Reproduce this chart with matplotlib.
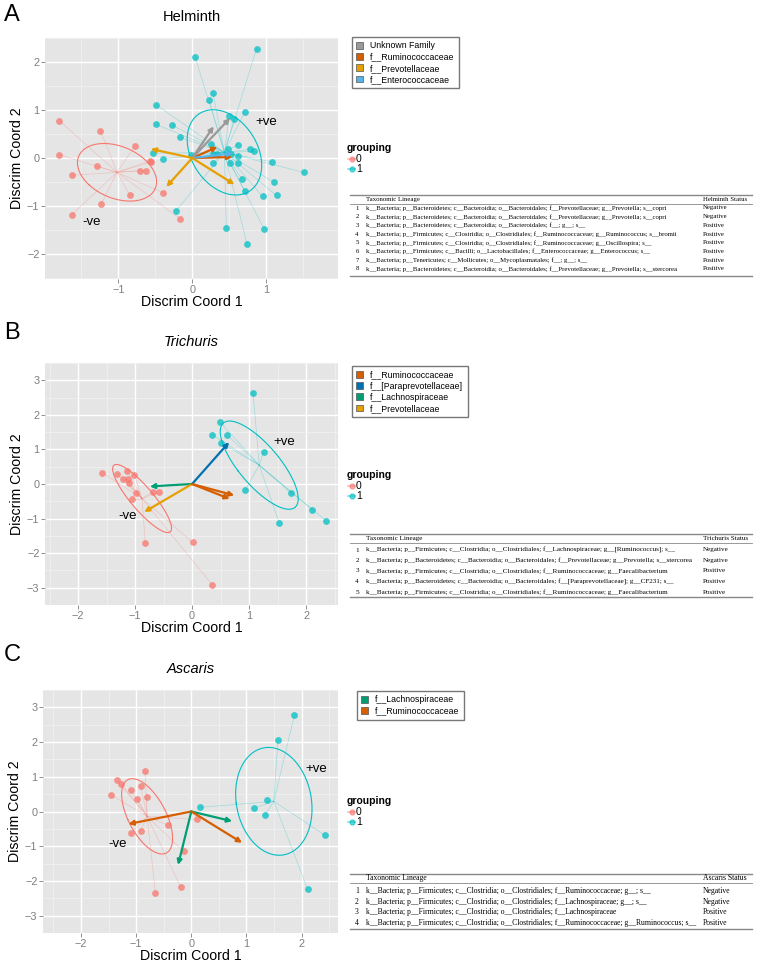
import numpy as np
import matplotlib.pyplot as plt
from matplotlib.patches import Patch
from matplotlib.lines import Line2D

plt.rcParams['font.family'] = ['Liberation Sans', 'DejaVu Sans']

RED = '#F8766D'
CYAN = '#00BFC4'
FAM_COL = {
    'Unknown Family': '#999999',
    'f__Ruminococcaceae': '#D55E00',
    'f__Prevotellaceae': '#E69F00',
    'f__Enterococcaceae': '#56B4E9',
    'f__[Paraprevotellaceae]': '#0072B2',
    'f__Lachnospiraceae': '#009E73',
}

# ---- A: Helminth ----
helm_neg_x = [-1.80, -1.80, -1.24, -0.78, -1.29, -1.62, -0.57, -0.56, -0.71, -0.63, -0.84, -1.23, -1.63, -0.39, -0.16]
helm_neg_y = [0.78, 0.07, 0.57, 0.24, -0.17, -0.36, -0.06, -0.09, -0.26, -0.26, -0.78, -0.96, -1.18, -0.73, -1.27]
helm_pos_x = [0.04, 0.87, 0.28, 0.23, -0.49, -0.49, -0.27, 0.71, 0.50, 0.57, -0.17, 0.26, 0.62, 0.48, 0.78, 0.84,
              -0.53, -0.02, 0.28, 0.34, 0.53, 0.62, -0.40, 0.28, 0.51, 0.62, 1.08, 1.51, 0.67, 1.10, 0.71, 0.95,
              1.14, -0.22, 0.46, 0.97, 0.74]
helm_pos_y = [2.10, 2.28, 1.35, 1.21, 1.11, 0.70, 0.68, 0.96, 0.87, 0.82, 0.43, 0.29, 0.28, 0.19, 0.18, 0.14,
              0.10, 0.07, 0.09, 0.09, 0.09, 0.04, -0.02, -0.11, -0.10, -0.10, -0.08, -0.30, -0.44, -0.50, -0.68, -0.80,
              -0.78, -1.10, -1.45, -1.47, -1.79]
helm_arrow_x = [-0.56, -0.35, 0.29, 0.54, 0.34, 0.55, 0.51, 0.57]
helm_arrow_y = [0.19, -0.60, 0.66, 0.02, 0.23, 0.10, 0.83, -0.55]
helm_arrow_fam = ['f__Prevotellaceae', 'f__Prevotellaceae', 'Unknown Family', 'f__Ruminococcaceae',
                  'f__Ruminococcaceae', 'f__Enterococcaceae', 'Unknown Family', 'f__Prevotellaceae']
helm_legend = ['Unknown Family', 'f__Ruminococcaceae', 'f__Prevotellaceae', 'f__Enterococcaceae']
helm_lineage = [
    'k__Bacteria; p__Bacteroidetes; c__Bacteroidia; o__Bacteroidales; f__Prevotellaceae; g__Prevotella; s__copri',
    'k__Bacteria; p__Bacteroidetes; c__Bacteroidia; o__Bacteroidales; f__Prevotellaceae; g__Prevotella; s__copri',
    'k__Bacteria; p__Bacteroidetes; c__Bacteroidia; o__Bacteroidales; f__; g__; s__',
    'k__Bacteria; p__Firmicutes; c__Clostridia; o__Clostridiales; f__Ruminococcaceae; g__Ruminococcus; s__bromii',
    'k__Bacteria; p__Firmicutes; c__Clostridia; o__Clostridiales; f__Ruminococcaceae; g__Oscillospira; s__',
    'k__Bacteria; p__Firmicutes; c__Bacilli; o__Lactobacillales; f__Enterococcaceae; g__Enterococcus; s__',
    'k__Bacteria; p__Tenericutes; c__Mollicutes; o__Mycoplasmatales; f__; g__; s__',
    'k__Bacteria; p__Bacteroidetes; c__Bacteroidia; o__Bacteroidales; f__Prevotellaceae; g__Prevotella; s__stercorea',
]
helm_status = ['Negative', 'Negative', 'Positive', 'Positive', 'Positive', 'Positive', 'Positive', 'Positive']

# ---- B: Trichuris ----
tri_neg_x = [-1.58, -1.32, -1.14, -1.01, -1.22, -1.13, -1.10, -0.99, -1.06, -0.69, -0.58, -0.82, 0.01, 0.35]
tri_neg_y = [0.33, 0.30, 0.39, 0.26, 0.14, 0.14, 0.02, -0.26, -0.42, -0.23, -0.23, -1.72, -1.69, -2.91]
tri_pos_x = [1.07, 0.49, 0.35, 0.62, 0.51, 1.26, 0.93, 1.74, 2.11, 2.35, 1.53]
tri_pos_y = [2.64, 1.79, 1.43, 1.41, 1.18, 0.94, -0.18, -0.27, -0.75, -1.06, -1.13]
tri_arrow_x = [-0.74, -0.84, 0.74, 0.65, 0.66]
tri_arrow_y = [-0.07, -0.81, -0.33, 1.21, -0.43]
tri_arrow_fam = ['f__Lachnospiraceae', 'f__Prevotellaceae', 'f__Ruminococcaceae',
                 'f__[Paraprevotellaceae]', 'f__Ruminococcaceae']
tri_legend = ['f__Ruminococcaceae', 'f__[Paraprevotellaceae]', 'f__Lachnospiraceae', 'f__Prevotellaceae']
tri_lineage = [
    'k__Bacteria; p__Firmicutes; c__Clostridia; o__Clostridiales; f__Lachnospiraceae; g__[Ruminococcus]; s__',
    'k__Bacteria; p__Bacteroidetes; c__Bacteroidia; o__Bacteroidales; f__Prevotellaceae; g__Prevotella; s__stercorea',
    'k__Bacteria; p__Firmicutes; c__Clostridia; o__Clostridiales; f__Ruminococcaceae; g__Faecalibacterium',
    'k__Bacteria; p__Bacteroidetes; c__Bacteroidia; o__Bacteroidales; f__[Paraprevotellaceae]; g__CF231; s__',
    'k__Bacteria; p__Firmicutes; c__Clostridia; o__Clostridiales; f__Ruminococcaceae; g__Faecalibacterium',
]
tri_status = ['Negative', 'Negative', 'Positive', 'Positive', 'Positive']

# ---- C: Ascaris ----
asc_neg_x = [-1.45, -1.35, -1.27, -0.84, -1.10, -0.92, -0.98, -0.81, -0.42, -1.10, -0.92, 0.11, -0.14, -0.19, -0.65]
asc_neg_y = [0.47, 0.90, 0.78, 1.16, 0.61, 0.74, 0.36, 0.41, -0.40, -0.63, -0.56, -0.23, -1.15, -2.18, -2.36]
asc_pos_x = [1.87, 1.57, 0.16, 1.13, 1.37, 1.33, 2.43, 2.11]
asc_pos_y = [2.78, 2.05, 0.12, 0.09, 0.33, -0.10, -0.69, -2.24]
asc_arrow_x = [-1.14, -0.24, 0.74, 0.92]
asc_arrow_y = [-0.36, -1.54, -0.28, -0.90]
asc_arrow_fam = ['f__Ruminococcaceae', 'f__Lachnospiraceae', 'f__Lachnospiraceae', 'f__Ruminococcaceae']
asc_legend = ['f__Lachnospiraceae', 'f__Ruminococcaceae']
asc_lineage = [
    'k__Bacteria; p__Firmicutes; c__Clostridia; o__Clostridiales; f__Ruminococcaceae; g__; s__',
    'k__Bacteria; p__Firmicutes; c__Clostridia; o__Clostridiales; f__Lachnospiraceae; g__; s__',
    'k__Bacteria; p__Firmicutes; c__Clostridia; o__Clostridiales; f__Lachnospiraceae',
    'k__Bacteria; p__Firmicutes; c__Clostridia; o__Clostridiales; f__Ruminococcaceae; g__Ruminococcus; s__',
]
asc_status = ['Negative', 'Negative', 'Positive', 'Positive']

W, H = 759, 961
fig = plt.figure(figsize=(W / 100, H / 100), dpi=100)


def px_axes(x0, y0, x1, y1):
    return fig.add_axes([x0 / W, 1 - y1 / H, (x1 - x0) / W, (y1 - y0) / H])


def group(ax, gx, gy, col):
    gx, gy = np.asarray(gx), np.asarray(gy)
    cx, cy = gx.mean(), gy.mean()
    for x, y in zip(gx, gy):
        ax.plot([cx, x], [cy, y], color=col, lw=0.5, alpha=0.3, zorder=2)
    vals, vecs = np.linalg.eigh(np.cov(gx, gy))
    t = np.linspace(0, 2 * np.pi, 200)
    e = vecs @ (np.sqrt(vals)[:, None] * np.vstack([np.cos(t), np.sin(t)]))
    ax.plot(cx + e[0], cy + e[1], color=col, lw=0.8, zorder=3)
    ax.scatter(gx, gy, s=24, color=col, alpha=0.75, lw=0, zorder=4)


def panel(ax, nx, ny, px, py, ax_, ay_, fam, xl, yl, xt, yt, neg_lab, pos_lab):
    ax.set_facecolor('#E5E5E5')
    ax.set_xlim(xl)
    ax.set_ylim(yl)
    ax.set_xticks(xt)
    ax.set_yticks(yt)
    ax.set_xticks([v + 0.5 for v in xt[:-1]] + [xt[0] - 0.5, xt[-1] + 0.5], minor=True)
    ax.set_yticks([v + 0.5 for v in yt[:-1]] + [yt[0] - 0.5, yt[-1] + 0.5], minor=True)
    ax.grid(True, which='major', color='white', lw=1.0, zorder=0)
    ax.grid(True, which='minor', color='#F2F2F2', lw=0.5, zorder=0)
    ax.set_axisbelow(True)
    for s in ax.spines.values():
        s.set_visible(False)
    ax.tick_params(which='major', colors='#7F7F7F', labelsize=7.8, length=3, width=0.6, pad=1)
    ax.tick_params(which='minor', length=0)
    ax.set_xticklabels(['\u2212%d' % -v if v < 0 else '%d' % v for v in xt])
    ax.set_yticklabels(['\u2212%d' % -v if v < 0 else '%d' % v for v in yt])
    ax.set_xlabel('Discrim Coord 1', fontsize=10.2, labelpad=0)
    ax.set_ylabel('Discrim Coord 2', fontsize=10.2, labelpad=2)
    group(ax, nx, ny, RED)
    group(ax, px, py, CYAN)
    for x, y, f in zip(ax_, ay_, fam):
        ax.annotate('', xy=(x, y), xytext=(0, 0),
                    arrowprops=dict(arrowstyle='-|>', color=FAM_COL[f], lw=1.6,
                                    mutation_scale=7, shrinkA=0, shrinkB=0), zorder=5)
    ax.text(pos_lab[0], pos_lab[1], '+ve', fontsize=9.5, ha='center', va='center', zorder=6)
    ax.text(neg_lab[0], neg_lab[1], '-ve', fontsize=9.5, ha='center', va='center', zorder=6)


def fam_legend(names, x0, y0):
    handles = [Patch(facecolor=FAM_COL[n], edgecolor='#555555', lw=0.5) for n in names]
    fig.legend(handles, names, loc='upper left', bbox_to_anchor=(x0 / W, 1 - y0 / H),
               fontsize=6.3, frameon=True, fancybox=False, edgecolor='#555555',
               handlelength=0.8, handleheight=0.8, handletextpad=0.8, labelspacing=0.25,
               borderpad=0.5, borderaxespad=0)


def grouping_legend(x0, y0):
    fig.text(x0 / W, 1 - y0 / H, 'grouping', fontsize=7.5, fontweight='bold', va='center')
    for i, (lab, col) in enumerate([('0', RED), ('1', CYAN)]):
        yy = y0 + 11 + i * 10
        fig.add_artist(Line2D([(x0 + 1) / W, (x0 + 8) / W], [1 - yy / H] * 2, color=col, lw=1.2, alpha=0.5))
        fig.add_artist(Line2D([(x0 + 4.5) / W], [1 - yy / H], color=col, marker='o', ms=3.5, alpha=0.6))
        fig.text((x0 + 9) / W, 1 - yy / H, lab, fontsize=7.5, va='center')


def table(lineage, status, header, top, row0, dy, bottom, fs):
    x_left, x_right = 350 / W, 752 / W
    tk = dict(fontsize=fs, family=['Liberation Serif', 'DejaVu Serif'], va='center')
    fig.add_artist(Line2D([x_left, x_right], [1 - top / H] * 2, color='#888888', lw=1.0))
    fig.text(366 / W, 1 - (top + 4.5) / H, 'Taxonomic Lineage', **tk)
    fig.text(703 / W, 1 - (top + 4.5) / H, header, **tk)
    fig.add_artist(Line2D([x_left, x_right], [1 - (top + 8.5) / H] * 2, color='#888888', lw=0.6))
    for i, (lin, st) in enumerate(zip(lineage, status)):
        yy = 1 - (row0 + i * dy) / H
        fig.text(357 / W, yy, str(i + 1), ha='center', **tk)
        fig.text(366 / W, yy, lin, **tk)
        fig.text(703 / W, yy, st, **tk)
    fig.add_artist(Line2D([x_left, x_right], [1 - bottom / H] * 2, color='#888888', lw=1.0))


axA = px_axes(45, 38, 338, 279)
panel(axA, helm_neg_x, helm_neg_y, helm_pos_x, helm_pos_y, helm_arrow_x, helm_arrow_y, helm_arrow_fam,
      (-1.99, 1.97), (-2.52, 2.5), [-1, 0, 1], [-2, -1, 0, 1, 2], (-1.36, -1.34), (1.0, 0.76))
axA.set_title('Helminth', fontsize=10.5, pad=12)

axB = px_axes(45, 363, 338, 605)
panel(axB, tri_neg_x, tri_neg_y, tri_pos_x, tri_pos_y, tri_arrow_x, tri_arrow_y, tri_arrow_fam,
      (-2.58, 2.56), (-3.2, 3.2), [-2, -1, 0, 1, 2], [-3, -2, -1, 0, 1, 2, 3], (-1.13, -0.94), (1.61, 1.21))
axB.set_title('Trichuris', fontsize=10.5, style='italic', pad=12)

axC = px_axes(43, 690, 338, 933)
panel(axC, asc_neg_x, asc_neg_y, asc_pos_x, asc_pos_y, asc_arrow_x, asc_arrow_y, asc_arrow_fam,
      (-2.69, 2.66), (-3.05, 3.05), [-2, -1, 0, 1, 2], [-3, -2, -1, 0, 1, 2, 3], (-1.33, -0.94), (2.27, 1.23))
axC.set_title('Ascaris', fontsize=10.5, style='italic', pad=12)

for lab, y in [('A', 15), ('B', 333), ('C', 655)]:
    fig.text(4 / W, 1 - y / H, lab, fontsize=17, va='center')

fam_legend(helm_legend, 352, 37)
fam_legend(tri_legend, 352, 366)
fam_legend(asc_legend, 357, 691)

grouping_legend(347, 148)
grouping_legend(347, 475)
grouping_legend(347, 801)

table(helm_lineage, helm_status, 'Helminth Status', 195, 208, 8.7, 276, 4.9)
table(tri_lineage, tri_status, 'Trichuris Status', 534, 550, 10.5, 597, 5.15)
table(asc_lineage, asc_status, 'Ascaris Status', 874, 891, 10.7, 929, 5.5)

fig.savefig('out.png', dpi=100)
